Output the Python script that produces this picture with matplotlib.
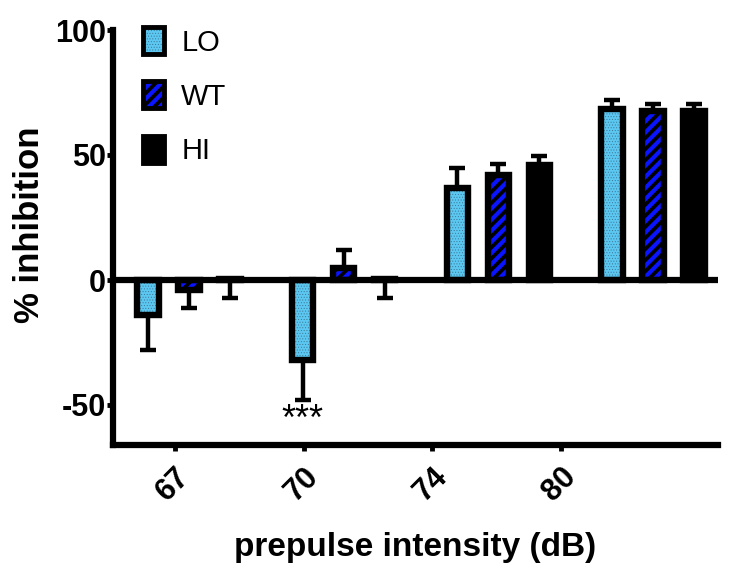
import matplotlib
matplotlib.use("Agg")
import matplotlib.pyplot as plt
import numpy as np
from matplotlib.patches import Patch
from matplotlib.legend_handler import HandlerTuple

plt.rcParams['font.family'] = ['Liberation Sans', 'DejaVu Sans']

categories = ["67", "70", "74", "80"]
series = ["LO", "WT", "HI"]
lo_vals = [-14, -32, 37, 68.5]
wt_vals = [-4, 5, 42, 67.5]
hi_vals = [0.5, 0.5, 46, 67.5]
lo_err = [14, 16, 8, 3.5]
wt_err = [7, 7, 4.5, 3]
hi_err = [7.5, 7.5, 3.5, 3]
# error drawn downward (-1) or upward (+1)
lo_dir = [-1, -1, 1, 1]
wt_dir = [-1, 1, 1, 1]
hi_dir = [-1, -1, 1, 1]

values = [lo_vals, wt_vals, hi_vals]
errs = [lo_err, wt_err, hi_err]
dirs = [lo_dir, wt_dir, hi_dir]

styles = [
    dict(face="#5cc8f2", hatch="......", hcolor="#3c7896", hlw=0.4),
    dict(face="#000000", hatch="///", hcolor="#0a14ff", hlw=3.0),
    dict(face="#000000", hatch=None, hcolor="#000000", hlw=1.0),
]


def set_hlw(artist, lw):
    if hasattr(artist, "set_hatch_linewidth"):
        artist.set_hatch_linewidth(lw)


fig = plt.figure(figsize=(7.30, 5.69), dpi=100)
ax = fig.add_axes([113/730, 1-445/569, (718-113)/730, (445-30)/569])

x = np.arange(len(categories))
offsets = [-0.265, 0.0, 0.265]
width = 0.139
lw_edge = 4.6

for s in range(3):
    xs = x + offsets[s]
    st = styles[s]
    v = np.array(values[s])
    e = np.array(errs[s])
    d = np.array(dirs[s])
    lower = np.where(d < 0, e, 0)
    upper = np.where(d > 0, e, 0)
    ax.errorbar(xs, v, yerr=[lower, upper], fmt="none", ecolor="black",
                elinewidth=3.2, capsize=5.5, capthick=3.2, zorder=2)
    with plt.rc_context({"hatch.linewidth": st["hlw"]}):
        bars = ax.bar(xs, v, width=width, color=st["face"], hatch=st["hatch"],
                      edgecolor=st["hcolor"], linewidth=0, zorder=3)
        for b in bars:
            set_hlw(b, st["hlw"])
    ax.bar(xs, v, width=width, color="none", edgecolor="black",
           linewidth=lw_edge, zorder=4)

ax.axhline(0, color="black", linewidth=4.5, zorder=5)

ax.set_xlim(-0.49, 3.42)
ax.set_ylim(-66, 100)
ax.set_yticks([-50, 0, 50, 100])
ax.set_yticklabels(["-50", "0", "50", "100"])
tick_pos = [-0.09 + 0.832 * i for i in range(len(categories))]
ax.set_xticks(tick_pos)
ax.set_xticklabels(categories, rotation=45, ha="right", va="top",
                   rotation_mode="anchor")

for side in ["top", "right"]:
    ax.spines[side].set_visible(False)
for side in ["left", "bottom"]:
    ax.spines[side].set_linewidth(4.5)
ax.tick_params(axis="both", width=3.5, length=4, labelsize=22)
ax.tick_params(axis="x", pad=8)
ax.tick_params(axis="y", pad=1)
for lab in ax.get_xticklabels() + ax.get_yticklabels():
    lab.set_fontweight("bold")

ax.set_ylabel("% inhibition", fontsize=25, fontweight="bold")
ax.yaxis.set_label_coords(-0.111, 0.53)
ax.set_xlabel("prepulse intensity (dB)", fontsize=24, fontweight="bold", labelpad=18)

ax.text(x[1] + offsets[0], -49, "***", ha="center", va="top", fontsize=26)

handles = []
for st in styles:
    with plt.rc_context({"hatch.linewidth": st["hlw"]}):
        h = Patch(facecolor=st["face"], hatch=st["hatch"],
                  edgecolor=st["hcolor"], linewidth=0)
    set_hlw(h, st["hlw"])
    outline = Patch(facecolor="none", edgecolor="black", linewidth=3.5)
    handles.append((h, outline))
leg = ax.legend(handles, series, loc="upper left", bbox_to_anchor=(0.03, 1.035),
                frameon=False, fontsize=21, handlelength=0.72, handleheight=1.05,
                labelspacing=0.85, handletextpad=0.6, borderaxespad=0,
                handler_map={tuple: HandlerTuple(ndivide=1, pad=0)})
for p in leg.get_patches():
    if p.get_hatch():
        for st in styles:
            if st["hatch"] == p.get_hatch():
                set_hlw(p, st["hlw"])

fig.savefig("out.png", dpi=100)
